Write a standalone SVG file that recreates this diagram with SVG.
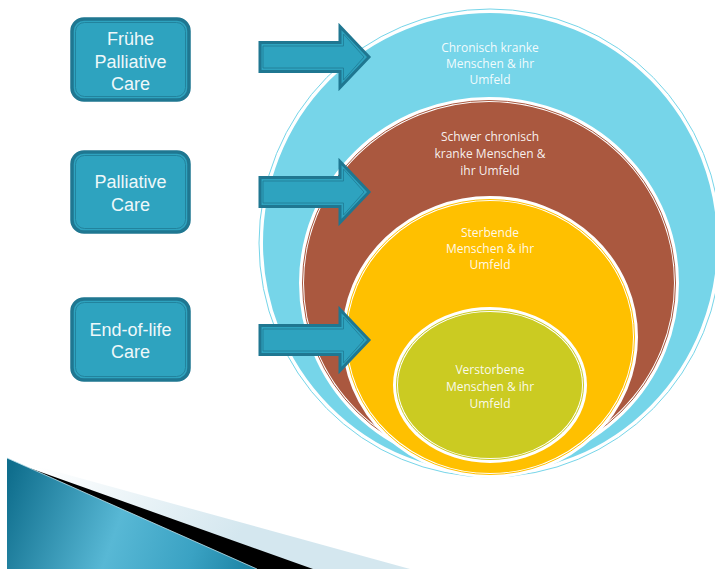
<svg xmlns="http://www.w3.org/2000/svg" width="715" height="569" viewBox="0 0 715 569">
  <defs>
    <style>
      .box { fill: #2ea3bf; stroke: #1f7791; stroke-width: 3.5; }
      .box-inner { fill: none; stroke: #217f99; stroke-width: 0.9; }
      .box-text { font-family: "Liberation Sans", Arial, sans-serif; font-size: 18px; fill: #eef8fa; text-anchor: middle; }
      .ring-edge { stroke: #ffffff; stroke-width: 5; }
      .ring-text { font-family: "Open Sans", "DejaVu Sans", sans-serif; font-size: 12px; fill: #ffffff; fill-opacity: 0.92; text-anchor: middle; }
      .arrow { fill: #2ea3bf; stroke: #1f7791; stroke-width: 3; stroke-linejoin: miter; }
      .arrow-inner { fill: none; stroke: #217f99; stroke-width: 0.9; }
    </style>
    <path id="block-arrow" d="M0,-14.5 H80 V-30.5 L109,0 L80,30.5 V14.5 H0 Z"/>
    <path id="block-arrow-inner" d="M3,-11 H83.5 V-23 L104,0 L83.5,23 V11 H3 Z"/>
    <linearGradient id="swoosh-blue" x1="7" y1="480" x2="257" y2="569" gradientUnits="userSpaceOnUse">
      <stop offset="0" stop-color="#0f6e8d"/>
      <stop offset="0.45" stop-color="#58b8d5"/>
      <stop offset="0.75" stop-color="#3aa2c3"/>
      <stop offset="1" stop-color="#1a81a2"/>
    </linearGradient>
    <linearGradient id="swoosh-light" x1="60" y1="440" x2="220" y2="560" gradientUnits="userSpaceOnUse">
      <stop offset="0" stop-color="#ffffff"/>
      <stop offset="1" stop-color="#d4e7ef"/>
    </linearGradient>
  </defs>

  <rect width="715" height="569" fill="#ffffff"/>

  <!-- corner swoosh -->
  <g id="swoosh">
    <polygon points="7,458 410,569 7,569" fill="url(#swoosh-light)"/>
    <polygon points="7,460 313,569 7,569" fill="#000000"/>
    <polygon points="7,458 257,569 7,569" fill="url(#swoosh-blue)"/>
    <line x1="7" y1="458" x2="257" y2="569" stroke="#bfe3ee" stroke-width="0.8"/>
  </g>

  <!-- nested target groups -->
  <g id="ring-chronic">
    <ellipse cx="490" cy="243" rx="229.5" ry="232.5" fill="#76d5e9" class="ring-edge"/>
    <ellipse cx="490" cy="243" rx="231" ry="234" fill="none" stroke="#76d5e9" stroke-width="1"/>
    <text class="ring-text" x="490" y="52">Chronisch kranke</text>
    <text class="ring-text" x="490" y="68">Menschen &amp; ihr</text>
    <text class="ring-text" x="490" y="84">Umfeld</text>
  </g>
  <g id="ring-severe">
    <ellipse cx="489" cy="283" rx="187.5" ry="183.5" fill="#aa583f" class="ring-edge"/>
    <ellipse cx="489" cy="283" rx="186.5" ry="182.5" fill="none" stroke="#aa583f" stroke-width="1"/>
    <text class="ring-text" x="490" y="141">Schwer chronisch</text>
    <text class="ring-text" x="490" y="158">kranke Menschen &amp;</text>
    <text class="ring-text" x="490" y="175">ihr Umfeld</text>
  </g>
  <g id="ring-dying">
    <ellipse cx="490" cy="337" rx="145.5" ry="138.5" fill="#ffc000" class="ring-edge"/>
    <ellipse cx="490" cy="337" rx="144.5" ry="137.5" fill="none" stroke="#ffc000" stroke-width="1"/>
    <text class="ring-text" x="490" y="237">Sterbende</text>
    <text class="ring-text" x="490" y="253">Menschen &amp; ihr</text>
    <text class="ring-text" x="490" y="269">Umfeld</text>
  </g>
  <g id="ring-deceased">
    <ellipse cx="490" cy="385" rx="94.5" ry="75.5" fill="#cbcb22" class="ring-edge"/>
    <ellipse cx="490" cy="385" rx="93.5" ry="74.5" fill="none" stroke="#cbcb22" stroke-width="1"/>
    <text class="ring-text" x="490" y="374">Verstorbene</text>
    <text class="ring-text" x="490" y="391">Menschen &amp; ihr</text>
    <text class="ring-text" x="490" y="408">Umfeld</text>
  </g>

  <!-- care phase boxes -->
  <g id="box-early">
    <rect class="box" x="72" y="19" width="117" height="81" rx="12"/>
    <rect class="box-inner" x="75.5" y="22.5" width="110" height="74" rx="9"/>
    <text class="box-text" x="130.5" y="45">Frühe</text>
    <text class="box-text" x="130.5" y="68">Palliative</text>
    <text class="box-text" x="130.5" y="90">Care</text>
  </g>
  <g id="box-palliative">
    <rect class="box" x="72" y="152" width="117" height="80" rx="12"/>
    <rect class="box-inner" x="75.5" y="155.5" width="110" height="73" rx="9"/>
    <text class="box-text" x="130.5" y="188">Palliative</text>
    <text class="box-text" x="130.5" y="211">Care</text>
  </g>
  <g id="box-eol">
    <rect class="box" x="72" y="299" width="117" height="81" rx="12"/>
    <rect class="box-inner" x="75.5" y="302.5" width="110" height="74" rx="9"/>
    <text class="box-text" x="130.5" y="336">End-of-life</text>
    <text class="box-text" x="130.5" y="358">Care</text>
  </g>

  <!-- block arrows -->
  <g id="connectors">
    <g transform="translate(260,57)">
      <use href="#block-arrow" class="arrow"/>
      <use href="#block-arrow-inner" class="arrow-inner"/>
    </g>
    <g transform="translate(260,192)">
      <use href="#block-arrow" class="arrow"/>
      <use href="#block-arrow-inner" class="arrow-inner"/>
    </g>
    <g transform="translate(260,340)">
      <use href="#block-arrow" class="arrow"/>
      <use href="#block-arrow-inner" class="arrow-inner"/>
    </g>
  </g>
</svg>
